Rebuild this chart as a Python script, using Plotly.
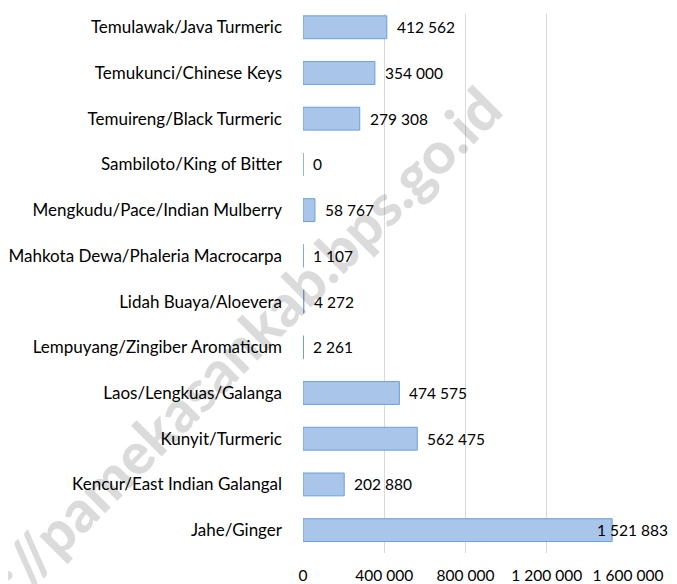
import plotly.graph_objects as go

# bottom to top, as drawn
crops = ['Jahe/Ginger', 'Kencur/East Indian Galangal', 'Kunyit/Turmeric',
         'Laos/Lengkuas/Galanga', 'Lempuyang/Zingiber Aromaticum',
         'Lidah Buaya/Aloevera', 'Mahkota Dewa/Phaleria Macrocarpa',
         'Mengkudu/Pace/Indian Mulberry', 'Sambiloto/King of Bitter',
         'Temuireng/Black Turmeric', 'Temukunci/Chinese Keys',
         'Temulawak/Java Turmeric']
production = [1521883, 202880, 562475, 474575, 2261, 4272, 1107,
              58767, 0, 279308, 354000, 412562]
x_ticks = [0, 400000, 800000, 1200000, 1600000]

def fmt(v):
    return f'{v:,}'.replace(',', ' ')

font = 'Lato'

fig = go.Figure(go.Bar(
    x=production, y=crops, orientation='h', width=0.5,
    marker=dict(color='#a9c5ea', line=dict(color='#6c9fd8', width=1)),
    hoverinfo='x+y'
))

# value labels next to bar ends; the longest one is pulled back to fit
for c, v in zip(crops, production):
    fig.add_annotation(x=v, y=c, text=fmt(v), showarrow=False,
                       xanchor='left', xshift=-17 if v == max(production) else 8,
                       font=dict(family=font, size=15.5, color='#000000'))

# watermark
fig.add_annotation(xref='paper', yref='paper', x=-0.29, y=0.326,
                   xanchor='center', yanchor='middle',
                   text='http://pamekasankab.bps.go.id', showarrow=False,
                   textangle=-45, font=dict(family=font, size=58, weight=900,
                                            color='rgba(0,0,0,0.14)'))

# page body adds an 8px offset, so the figure is 8px smaller each way
fig.update_layout(
    width=669, height=576,
    margin=dict(l=295, r=49, t=6, b=31),
    plot_bgcolor='white', paper_bgcolor='white',
    showlegend=False,
    font=dict(family=font, size=15.5, color='#000000'),
    xaxis=dict(range=[0, 1600000], tickvals=x_ticks,
               ticktext=[fmt(t) for t in x_ticks],
               showgrid=True, gridcolor='#d9d9d9', gridwidth=1,
               zeroline=False, showline=False, ticklabelstandoff=11,
               tickfont=dict(size=15.5), automargin=False),
    yaxis=dict(range=[-0.5, 11.29], showgrid=False, zeroline=False,
               showline=False, ticklabelstandoff=20, tickfont=dict(size=17),
               automargin=False),
)

fig.write_html('out.html')
